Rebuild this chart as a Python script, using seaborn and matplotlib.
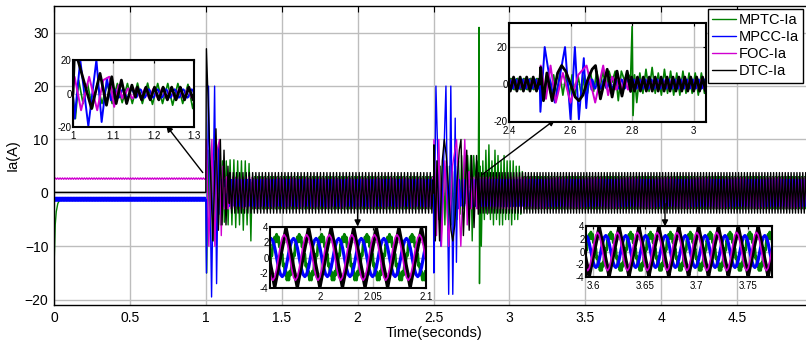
import numpy as np
import matplotlib
matplotlib.use('Agg')
import matplotlib.pyplot as plt
import seaborn as sns
from matplotlib.lines import Line2D

# ---------------- data ----------------
labels = ['MPTC-Ia', 'MPCC-Ia', 'FOC-Ia', 'DTC-Ia']
colors = ['#008000', '#0000ff', '#d000d0', '#000000']

# before the step at t = 1 s
pre_mptc_t = [0.0, 0.002, 0.008, 0.015, 0.025, 0.040, 0.999]
pre_mptc_v = [-1.0, -12.0, -6.0, -3.5, -2.0, -1.2, -1.2]
pre_mpcc_ripple = [-0.85, -1.5]
pre_foc_ripple = [2.55, 2.8]
pre_dtc_t = [0.0, 0.999]
pre_dtc_v = [0.1, 0.1]

# transient after the step at 1 s (peak values)
t1_mptc = [1.000, 1.006, 1.014, 1.025, 1.036, 1.048, 1.060, 1.072, 1.085, 1.097,
           1.110, 1.122, 1.135, 1.147, 1.160, 1.172, 1.185, 1.197, 1.210, 1.222,
           1.235, 1.247, 1.260, 1.272, 1.285, 1.297, 1.305]
v1_mptc = [-1.2, -15, 8, -6, 6, -9, 6, -6, 6, -6,
           6, -5.5, 6, -6, 6.2, -6, 6.2, -6.5, 6, -6,
           6, -7, 6, -6, 5.5, -9, 2]
t1_mpcc = [1.000, 1.004, 1.018, 1.038, 1.058, 1.071, 1.084, 1.094, 1.100]
v1_mpcc = [-1.2, -15, 20, -19.5, 20, -17, 9, -4, 1]
t1_foc = [1.000, 1.004, 1.020, 1.040, 1.060, 1.075, 1.090, 1.102, 1.113, 1.122, 1.128]
v1_foc = [2.7, 10, -10, 10, -10, 8, 10, -8, 5, -3, 1]
t1_dtc = [1.000, 1.004, 1.046, 1.067, 1.083, 1.096, 1.107, 1.120, 1.133, 1.146, 1.155]
v1_dtc = [0.1, 27, -9, 12, -7, 10, -6, 8, -6, 5, -2]

# transient after the change at 2.5 s (peak values)
t2_mptc = [2.500, 2.505, 2.515, 2.525, 2.535, 2.545, 2.555, 2.565, 2.575, 2.585,
           2.595, 2.605, 2.615, 2.625, 2.635, 2.645, 2.655, 2.665, 2.675, 2.685,
           2.695, 2.705, 2.715, 2.725, 2.735, 2.745, 2.755, 2.765, 2.775, 2.785,
           2.795, 2.800, 2.803, 2.808, 2.815, 2.825, 2.835, 2.845, 2.855, 2.865,
           2.875, 2.885, 2.895, 2.905, 2.915, 2.925, 2.935, 2.945, 2.955, 2.965,
           2.975, 2.985, 2.995, 3.005, 3.015, 3.025, 3.035, 3.045, 3.055, 3.065,
           3.075, 3.085, 3.095]
v2_mptc = [0, 5, -6, 6, -5, 5, -6, 6, -6, 5,
           -7, 5, -6, 4, -6, 5, -5, 6, -4, 7,
           -3, 7, -2, 7, 1, 7, -9, 7, 2, 6,
           3, 31, -17, 5, -10, 6, -5, 8, -4, 9,
           -5, 6, -6, 8, -5, 7, -6, 6, -6, 7,
           -5, 6, -5, 6, -6, 6, -5, 5, -5, 5,
           -4, 4, -3]
t2_mpcc = [2.500, 2.502, 2.516, 2.532, 2.549, 2.566, 2.582, 2.600, 2.614, 2.627,
           2.643, 2.651, 2.660, 2.668]
v2_mpcc = [0, -15, 20, 3, -10, 5, 20, -19, 20, -19, 14, -13, 6, -3]
t2_foc = [2.500, 2.503, 2.520, 2.535, 2.552, 2.575, 2.600, 2.625, 2.652, 2.680,
          2.706, 2.722, 2.735]
v2_foc = [0, 10, -8, 10, -10, 6, -10, 5, 10, -10, 10, -6, 4]
t2_dtc = [2.500, 2.503, 2.512, 2.523, 2.540, 2.558, 2.571, 2.584, 2.600, 2.615,
          2.627, 2.640, 2.655, 2.670, 2.681, 2.697, 2.719, 2.735, 2.751, 2.767,
          2.784, 2.795]
v2_dtc = [0, 9, -9, 6, -9, 6, 10, 7, 0, -7,
          -9, -6, 2, 8, 10, -8, 8, -7, 7, -6.5,
          7, -4]

# steady-state: one cycle of each current (A), from the zoomed insets
freq_before = 47.0   # Hz, up to 2.5 s
freq_after = 52.0    # Hz, after 2.5 s
cycle_mptc = [2.7, 2.06, 3.05, 2.06, 2.7, 1.39, 1.75, 0.22, 0.45, -1.12, -0.85, -2.29,
              -1.8, -2.96, -2.15, -2.96, -1.8, -2.29, -0.85, -1.12, 0.45, 0.22, 1.75, 1.39]
cycle_mpcc = [1.3, 0, -1.3, -2.2, -2.5, -2.2, -1.3, 0, 1.3, 2.2, 2.5, 2.2]
cycle_foc = [-2.6, -1.5, 0, 1.5, 2.6, 3.0, 2.6, 1.5, 0, -1.5, -2.6, -3.0]
cycle_dtc = [-3.8, -2.5, -1.3, 0, 1.3, 2.5, 3.8, 2.5, 1.3, 0, -1.3, -2.5]


def steady(cycle, f, t0, t1):
    n = len(cycle)
    step = 1.0 / (f * n)
    k = np.arange(int(np.ceil(t0 / step)) + 1, int(np.floor(t1 / step)))
    return k * step, np.asarray(cycle, float)[k % n]


def build(pre_t, pre_v, ta, va, cycle, tb, vb):
    ts, vs = [np.asarray(pre_t, float), np.asarray(ta, float)], [np.asarray(pre_v, float), np.asarray(va, float)]
    s = steady(cycle, freq_before, ta[-1], tb[0])
    ts.append(s[0]); vs.append(s[1])
    ts.append(np.asarray(tb, float)); vs.append(np.asarray(vb, float))
    s = steady(cycle, freq_after, tb[-1], 5.0)
    ts.append(s[0]); vs.append(s[1])
    return np.concatenate(ts), np.concatenate(vs)


t_pre_b = np.arange(0, 0.999, 0.002)
t_pre_m = np.arange(0, 0.999, 0.008)
series = [
    build(pre_mptc_t, pre_mptc_v, t1_mptc, v1_mptc, cycle_mptc, t2_mptc, v2_mptc),
    build(t_pre_b, np.resize(pre_mpcc_ripple, len(t_pre_b)), t1_mpcc, v1_mpcc, cycle_mpcc, t2_mpcc, v2_mpcc),
    build(t_pre_m, np.resize(pre_foc_ripple, len(t_pre_m)), t1_foc, v1_foc, cycle_foc, t2_foc, v2_foc),
    build(pre_dtc_t, pre_dtc_v, t1_dtc, v1_dtc, cycle_dtc, t2_dtc, v2_dtc),
]

# ---------------- style ----------------
sns.set_style('white', {'axes.edgecolor': 'black', 'xtick.color': 'black',
                        'ytick.color': 'black', 'text.color': 'black',
                        'axes.labelcolor': 'black'})
plt.rcParams['font.family'] = ['Liberation Sans', 'DejaVu Sans']

W, H = 806, 340
fig = plt.figure(figsize=(W / 100, H / 100), dpi=100)


def rect(x0, y0, x1, y1):
    return [x0 / W, 1 - y1 / H, (x1 - x0) / W, (y1 - y0) / H]


def style_axes(ax, fs, lw_spine, length):
    for sp in ax.spines.values():
        sp.set_color('black')
        sp.set_linewidth(lw_spine)
    ax.tick_params(direction='in', top=True, right=True, length=length,
                   width=0.8, labelsize=fs, pad=2)
    ax.grid(True, color='#bdbdbd', linewidth=1.0)
    ax.set_axisbelow(True)


# main axes
ax = fig.add_axes(rect(54, 6, 813, 305))
for (t, v), c in zip(series, colors):
    sns.lineplot(x=t, y=v, ax=ax, color=c, linewidth=1.0,
                 estimator=None, sort=False, legend=False)
ax.set_xlim(0, 5)
ax.set_ylim(-21, 35)
ax.set_xticks(np.arange(0, 5, 0.5))
ax.set_xticklabels(['0', '0.5', '1', '1.5', '2', '2.5', '3', '3.5', '4', '4.5'])
ax.set_yticks([-20, -10, 0, 10, 20, 30])
style_axes(ax, 10, 1.0, 4)
ax.tick_params(pad=4)
ax.set_xlabel('Time(seconds)', fontsize=10.5, labelpad=1)
ax.set_ylabel('Ia(A)', fontsize=10.5, labelpad=4)

# arrows pointing at the zoom windows
arrows = [((0.98, 3.8), (0.74, 12.6)), ((2.82, 3.4), (3.30, 13.7)),
          ((2.0, -2.0), (2.0, -6.3)), ((4.025, -2.0), (4.025, -6.3))]
for tail, head in arrows:
    ax.annotate('', xy=head, xytext=tail,
                arrowprops=dict(arrowstyle='-|>', color='black', lw=1.0,
                                mutation_scale=9, shrinkA=0, shrinkB=0),
                annotation_clip=False)

insets = [
    dict(r=rect(73, 60, 194, 127), xlim=(1, 1.3), ylim=(-20, 20),
         xt=[1, 1.1, 1.2, 1.3], xl=['1', '1.1', '1.2', '1.3'],
         yt=[-20, 0, 20], lw=[1.2, 1.4, 1.4, 2.0], order=[0, 1, 2, 3]),
    dict(r=rect(509, 23, 706, 122), xlim=(2.4, 3.04), ylim=(-20.5, 33),
         xt=[2.4, 2.6, 2.8, 3.0], xl=['2.4', '2.6', '2.8', '3'],
         yt=[-20, 0, 20], lw=[1.2, 1.4, 1.4, 2.0], order=[0, 1, 2, 3]),
    dict(r=rect(270, 227, 426, 288), xlim=(1.953, 2.1), ylim=(-4, 4),
         xt=[2.0, 2.05, 2.1], xl=['2', '2.05', '2.1'],
         yt=[-4, -2, 0, 2, 4], lw=[2.0, 2.3, 1.2, 2.6], order=[0, 1, 3, 2]),
    dict(r=rect(586, 226, 772, 277), xlim=(3.593, 3.773), ylim=(-4, 4),
         xt=[3.6, 3.65, 3.7, 3.75], xl=['3.6', '3.65', '3.7', '3.75'],
         yt=[-4, -2, 0, 2, 4], lw=[2.0, 2.3, 1.2, 2.6], order=[0, 1, 3, 2]),
]
for d in insets:
    ia = fig.add_axes(d['r'])
    ia.set_facecolor('white')
    for i in d['order']:
        t, v = series[i]
        m = (t >= d['xlim'][0] - 0.02) & (t <= d['xlim'][1] + 0.02)
        sns.lineplot(x=t[m], y=v[m], ax=ia, color=colors[i], linewidth=d['lw'][i],
                     estimator=None, sort=False, legend=False)
    ia.set_xlim(*d['xlim'])
    ia.set_ylim(*d['ylim'])
    ia.set_xticks(d['xt'])
    ia.set_xticklabels(d['xl'])
    ia.set_yticks(d['yt'])
    ia.set_yticklabels([str(y) for y in d['yt']])
    style_axes(ia, 7, 1.5, 2)
    ia.tick_params(axis='y', pad=1)
    ia.tick_params(axis='x', pad=3)
    ia.set_xlabel('')
    ia.set_ylabel('')

handles = [Line2D([], [], color=c, lw=1.0) for c in colors]
leg = fig.legend(handles, labels, loc='upper left',
                 bbox_to_anchor=(708 / W, 1 - 9 / H), frameon=True, fancybox=False,
                 edgecolor='black', framealpha=1, fontsize=10.5, handlelength=1.65,
                 handletextpad=0.15, labelspacing=0.2, borderpad=0.3, borderaxespad=0)
leg.get_frame().set_linewidth(1.0)

fig.savefig('out.png', dpi=100)
